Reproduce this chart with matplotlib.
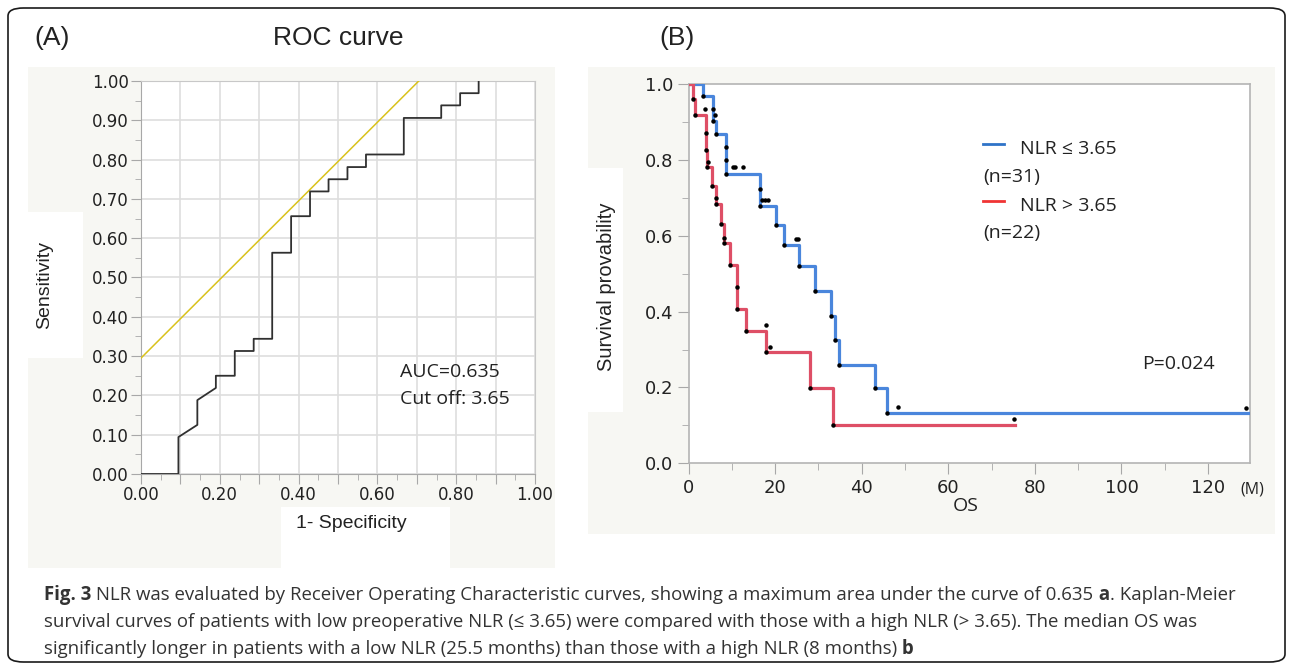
import matplotlib
matplotlib.use('Agg')
import matplotlib.pyplot as plt
from matplotlib.patches import Rectangle, FancyBboxPatch
from matplotlib.lines import Line2D
from matplotlib.ticker import MultipleLocator, StrMethodFormatter, FuncFormatter

W, H = 1292, 666

# ROC curve vertices (1 - specificity, sensitivity)
roc_fpr = [0, 0.095, 0.095, 0.143, 0.143, 0.190, 0.190, 0.238, 0.238, 0.286, 0.286,
           0.333, 0.333, 0.381, 0.381, 0.429, 0.429, 0.476, 0.476, 0.524, 0.524,
           0.571, 0.571, 0.667, 0.667, 0.762, 0.762, 0.810, 0.810, 0.857, 0.857]
roc_tpr = [0, 0, 0.094, 0.125, 0.188, 0.219, 0.250, 0.250, 0.313, 0.313, 0.344,
           0.344, 0.563, 0.563, 0.656, 0.656, 0.719, 0.719, 0.750, 0.750, 0.781,
           0.781, 0.813, 0.813, 0.906, 0.906, 0.938, 0.938, 0.969, 0.969, 1.0]
ref_x = [0, 0.705]
ref_y = [0.295, 1.0]

# Kaplan-Meier, NLR <= 3.65 (n=31)
low_t = [0, 3.4, 5.7, 5.7, 6.3, 8.6, 8.6, 8.6, 16.6, 16.6, 20.3, 22.1, 25.5,
         29.2, 33.0, 33.8, 34.8, 43.0, 45.9, 129.5]
low_s = [1.0, 0.968, 0.935, 0.903, 0.868, 0.835, 0.800, 0.764, 0.723, 0.679,
         0.628, 0.576, 0.521, 0.455, 0.389, 0.326, 0.260, 0.198, 0.132, 0.132]
low_cens_t = [6.2, 10.3, 10.7, 12.6, 17.0, 17.6, 18.4, 24.8, 25.3, 48.3, 128.7]
low_cens_s = [0.918, 0.780, 0.780, 0.780, 0.695, 0.695, 0.695, 0.591, 0.591, 0.148, 0.147]

# Kaplan-Meier, NLR > 3.65 (n=22)
high_t = [0, 1.1, 1.4, 4.0, 4.0, 4.3, 5.3, 6.3, 7.4, 8.1, 9.6, 11.2, 11.2,
          13.2, 17.9, 28.0, 33.3, 75.4]
high_s = [1.0, 0.960, 0.918, 0.872, 0.826, 0.780, 0.732, 0.683, 0.631, 0.580,
          0.523, 0.464, 0.406, 0.350, 0.293, 0.198, 0.101, 0.101]
high_cens_t = [3.9, 4.5, 6.3, 8.1, 17.9, 18.8, 75.2]
high_cens_s = [0.933, 0.795, 0.699, 0.595, 0.365, 0.307, 0.116]

BLUE = '#4a86dc'
RED = '#de4f66'
PANEL = '#f7f7f3'
TXT = '#222222'
SANS = ['Liberation Sans', 'DejaVu Sans']
ROUND = ['Open Sans', 'DejaVu Sans']


def fx(x):
    return x / W


def fy(y):
    return 1 - y / H


def rect(x0, y0, x1, y1, color):
    fig.add_artist(Rectangle((fx(x0), fy(y1)), fx(x1) - fx(x0), fy(y0) - fy(y1),
                             transform=fig.transFigure, facecolor=color,
                             edgecolor='none', zorder=0))


fig = plt.figure(figsize=(W / 100, H / 100), dpi=100)
fig.patch.set_facecolor('white')

# outer frame
fig.add_artist(FancyBboxPatch((fx(8), fy(662)), fx(1285) - fx(8), fy(8) - fy(662),
                              boxstyle='round,pad=0,rounding_size=0.012',
                              transform=fig.transFigure, facecolor='none',
                              edgecolor='#1a1a1a', linewidth=1.2, zorder=0))

# gray panels with white patches behind axis titles
rect(28, 67, 555, 568, PANEL)
rect(28, 212, 83, 358, 'white')
rect(281, 507, 450, 568, 'white')
rect(588, 67, 1275, 534, PANEL)
rect(588, 168, 623, 412, 'white')

fig.text(fx(52), fy(38), '(A)', fontsize=19, family=SANS, color=TXT, ha='center', va='center')
fig.text(fx(338), fy(38), 'ROC curve', fontsize=19, family=SANS, color=TXT, ha='center', va='center')
fig.text(fx(677), fy(38), '(B)', fontsize=19, family=SANS, color=TXT, ha='center', va='center')

# (A) ROC
ax1 = fig.add_axes([fx(141), fy(474), fx(535) - fx(141), fy(81) - fy(474)])
ax1.set_facecolor('white')
ax1.plot(ref_x, ref_y, color='#d9c21c', linewidth=1.1, zorder=3)
ax1.plot(roc_fpr, roc_tpr, color='#303030', linewidth=1.3, zorder=4)
ax1.set_xlim(0, 1)
ax1.set_ylim(0, 1)
ax1.xaxis.set_major_locator(MultipleLocator(0.1))
ax1.yaxis.set_major_locator(MultipleLocator(0.1))
ax1.xaxis.set_minor_locator(MultipleLocator(0.05))
ax1.yaxis.set_minor_locator(MultipleLocator(0.05))
# labels only on every other x tick
ax1.xaxis.set_major_formatter(FuncFormatter(
    lambda v, p: f'{v:.2f}' if round(v * 10) % 2 == 0 else ''))
ax1.yaxis.set_major_formatter(StrMethodFormatter('{x:.2f}'))
ax1.grid(True, which='major', color='#dedede', linewidth=1.2)
ax1.tick_params(which='both', direction='out', color='#a8a8a8', labelsize=12,
                labelcolor=TXT, pad=2)
ax1.tick_params(which='major', length=7)
ax1.tick_params(which='minor', length=4)
for sp in ax1.spines.values():
    sp.set_color('#c8c8c8')
ax1.spines['left'].set_color('#a8a8a8')
ax1.spines['bottom'].set_color('#a8a8a8')
ax1.set_axisbelow(True)
fig.text(fx(45), fy(285), 'Sensitivity', rotation=90, fontsize=14, family=SANS,
         color=TXT, ha='center', va='center')
fig.text(fx(351), fy(524), '1- Specificity', fontsize=14, family=SANS,
         color=TXT, ha='center', va='center')
fig.text(fx(400), fy(377), 'AUC=0.635', fontsize=14, family=ROUND, color=TXT, va='baseline')
fig.text(fx(400), fy(404), 'Cut off: 3.65', fontsize=14, family=ROUND, color=TXT, va='baseline')

# (B) Kaplan-Meier
ax2 = fig.add_axes([fx(688.6), fy(463.3), fx(1250) - fx(688.6), fy(84) - fy(463.3)])
ax2.set_facecolor('white')
ax2.step(low_t, low_s, where='post', color=BLUE, linewidth=2.3, zorder=3)
ax2.step(high_t, high_s, where='post', color=RED, linewidth=2.3, zorder=3)
ax2.plot(low_t[1:-1], low_s[1:-1], 'o', color='black', markersize=2.2, zorder=4)
ax2.plot(high_t[1:-1], high_s[1:-1], 'o', color='black', markersize=2.2, zorder=4)
ax2.plot(low_cens_t, low_cens_s, 'o', color='black', markersize=2.2, zorder=4)
ax2.plot(high_cens_t, high_cens_s, 'o', color='black', markersize=2.2, zorder=4)
ax2.set_xlim(0, 129.7)
ax2.set_ylim(0, 1)
ax2.xaxis.set_major_locator(MultipleLocator(20))
ax2.xaxis.set_minor_locator(MultipleLocator(10))
ax2.yaxis.set_major_locator(MultipleLocator(0.2))
ax2.yaxis.set_minor_locator(MultipleLocator(0.1))
ax2.yaxis.set_major_formatter(StrMethodFormatter('{x:.1f}'))
ax2.tick_params(which='both', direction='out', color='#a8a8a8', labelsize=13,
                labelcolor=TXT, pad=3)
ax2.tick_params(which='major', length=8)
ax2.tick_params(which='minor', length=5)
for sp in ax2.spines.values():
    sp.set_color('#b4b4b4')
    sp.set_linewidth(1.2)
fig.text(fx(607), fy(287), 'Survival provability', rotation=90, fontsize=14.5,
         family=SANS, color=TXT, ha='center', va='center')
fig.text(fx(966), fy(506), 'OS', fontsize=14, family=ROUND, color=TXT, ha='center', va='center')
fig.text(fx(1252), fy(489), '(M)', fontsize=11.5, family=ROUND, color=TXT, ha='center', va='center')
fig.text(fx(1142), fy(369), 'P=0.024', fontsize=14, family=ROUND, color=TXT, va='baseline')

# legend
fig.add_artist(Line2D([fx(983), fx(1004)], [fy(144), fy(144)], color='#2f73c8',
                      linewidth=2, transform=fig.transFigure))
fig.add_artist(Line2D([fx(983), fx(1004)], [fy(200.5), fy(200.5)], color='#f03434',
                      linewidth=2, transform=fig.transFigure))
fig.text(fx(1020), fy(154), 'NLR ≤ 3.65', fontsize=14, family=ROUND, color=TXT, va='baseline')
fig.text(fx(983), fy(182), '(n=31)', fontsize=14, family=ROUND, color=TXT, va='baseline')
fig.text(fx(1020), fy(210.5), 'NLR > 3.65', fontsize=14, family=ROUND, color=TXT, va='baseline')
fig.text(fx(983), fy(238), '(n=22)', fontsize=14, family=ROUND, color=TXT, va='baseline')

# caption with bold fragments
caption = [
    [('Fig. 3', True),
     (' NLR was evaluated by Receiver Operating Characteristic curves, showing a maximum '
      'area under the curve of 0.635', False), (' a', True), ('. Kaplan-Meier', False)],
    [('survival curves of patients with low preoperative NLR (≤ 3.65) were compared with '
      'those with a high NLR (> 3.65). The median OS was', False)],
    [('significantly longer in patients with a low NLR (25.5 months) than those with a '
      'high NLR (8 months)', False), (' b', True)],
]
renderer = fig.canvas.get_renderer()
for i, line in enumerate(caption):
    x = 44
    y = 600 + i * 27
    for s, bold in line:
        t = fig.text(fx(x), fy(y), s, fontsize=13.4, family=ROUND, color='#333333',
                     fontweight='bold' if bold else 'normal', va='baseline')
        x += t.get_window_extent(renderer).width

fig.savefig('out.png', dpi=100, facecolor='white')
